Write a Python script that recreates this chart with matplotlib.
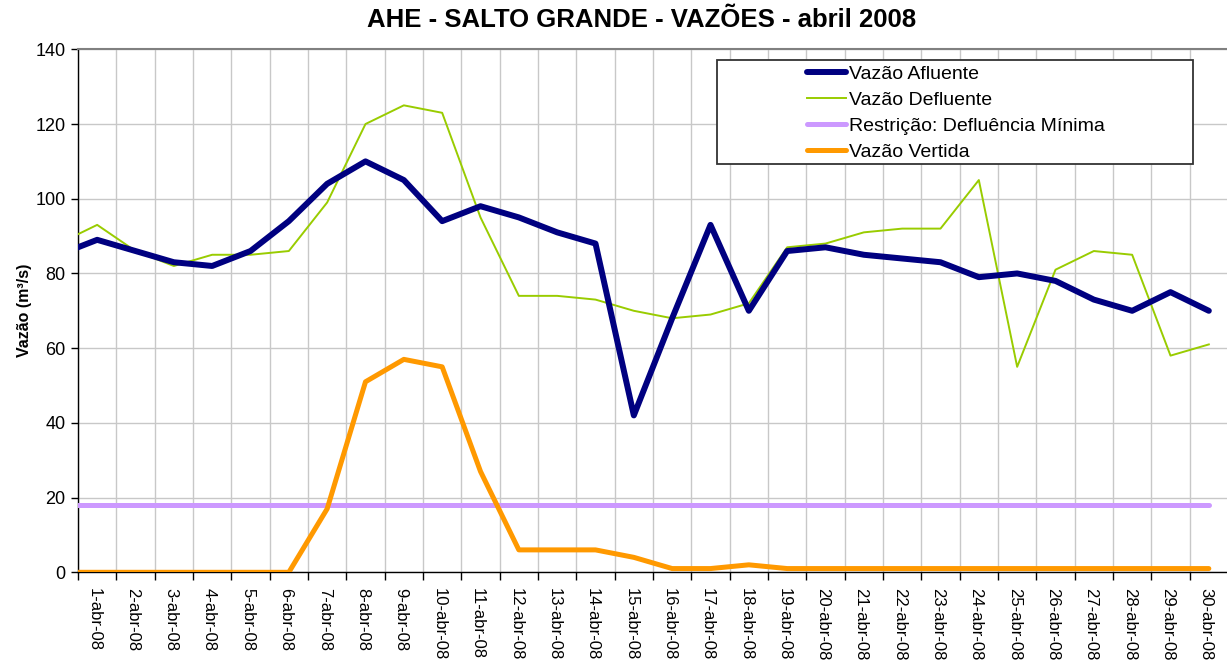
import numpy as np
import matplotlib.pyplot as plt
from matplotlib.patches import Rectangle
from matplotlib.transforms import ScaledTranslation

plt.rcParams['font.family'] = ['Liberation Sans', 'DejaVu Sans']

# dias: 31-mar (cortado na borda) + 1..30 abr 2008
days = list(range(0, 31))
tick_labels = [f"{d}-abr-08" for d in range(1, 31)]

afluente = [85, 89, 86, 83, 82, 86, 94, 104, 110, 105, 94, 98, 95, 91, 88, 42,
            68, 93, 70, 86, 87, 85, 84, 83, 79, 80, 78, 73, 70, 75, 70]
defluente = [88, 93, 86, 82, 85, 85, 86, 99, 120, 125, 123, 95, 74, 74, 73, 70,
             68, 69, 72, 87, 88, 91, 92, 92, 105, 55, 81, 86, 85, 58, 61]
restricao = [18] * 31
vertida = [0, 0, 0, 0, 0, 0, 0, 17, 51, 57, 55, 27, 6, 6, 6, 4,
           1, 1, 2, 1, 1, 1, 1, 1, 1, 1, 1, 1, 1, 1, 1]

W, H = 1227, 660
fig = plt.figure(figsize=(W / 100, H / 100), dpi=100)
ax = fig.add_axes([78 / W, (H - 572.3) / H, 1150 / W, 523 / H])

x = np.array(days) - 1  # indice 0 = 1-abr
ax.plot(x, restricao, color='#CC99FF', lw=3.6, solid_capstyle='round', zorder=3,
        label='Restrição: Defluência Mínima')
ax.plot(x, vertida, color='#FF9900', lw=3.6, solid_capstyle='round', zorder=4,
        label='Vazão Vertida')
ax.plot(x, defluente, color='#99CC00', lw=1.4, zorder=5, label='Vazão Defluente')
ax.plot(x, afluente, color='#000080', lw=4.3, solid_capstyle='round', zorder=6,
        label='Vazão Afluente')

ax.set_xlim(-0.5, 29.5)
ax.set_ylim(0, 140)
ax.set_yticks(np.arange(0, 141, 20))
ax.tick_params(axis='y', labelsize=13, length=5, width=1, pad=4)

ax.set_xticks(np.arange(-0.5, 30, 1))
ax.set_xticklabels([])
ax.set_xticks(np.arange(0, 30), minor=True)
ax.set_xticklabels(tick_labels, minor=True, rotation=-90, fontsize=12,
                   va='top', ha='center')
ax.tick_params(axis='x', which='major', length=6, width=1)
ax.tick_params(axis='x', which='minor', length=0, pad=11)
shift = ScaledTranslation(-3 / 100, 0, fig.dpi_scale_trans)
for lab in ax.get_xticklabels(minor=True):
    lab.set_transform(lab.get_transform() + shift)

ax.grid(True, which='major', color='#C8C8C8', lw=1.0, zorder=0)
ax.set_axisbelow(True)

ax.spines['right'].set_visible(False)
ax.spines['top'].set_color('#808080')
ax.spines['top'].set_linewidth(1.5)
for s in ('left', 'bottom'):
    ax.spines[s].set_color('black')
    ax.spines[s].set_linewidth(1.0)

ax.set_ylabel('Vazão (m³/s)', fontsize=11.5, fontweight='bold')
ax.yaxis.set_label_coords((32 - 78) / 1150, 0.5)

fig.text(641.5 / W, 1 - 20 / H, 'AHE - SALTO GRANDE - VAZÕES - abril 2008',
         ha='center', va='center', fontsize=18.5, fontweight='bold')

# legenda
handles, labels = ax.get_legend_handles_labels()
order = [3, 2, 0, 1]
fig.patches.append(Rectangle((716.7 / W, 1 - 164.3 / H), (1192.7 - 716.7) / W,
                             (164.3 - 60) / H, transform=fig.transFigure,
                             facecolor='white', edgecolor='#333333', lw=1.3,
                             zorder=10))
leg = fig.legend([handles[i] for i in order], [labels[i] for i in order],
                 loc='upper left', bbox_to_anchor=(807 / W, 1 - 65 / H),
                 frameon=False, fontsize=14, handlelength=2.0,
                 handletextpad=0.15, labelspacing=0.44, borderpad=0,
                 borderaxespad=0)
leg.set_zorder(11)

fig.savefig('out.png', dpi=100)
